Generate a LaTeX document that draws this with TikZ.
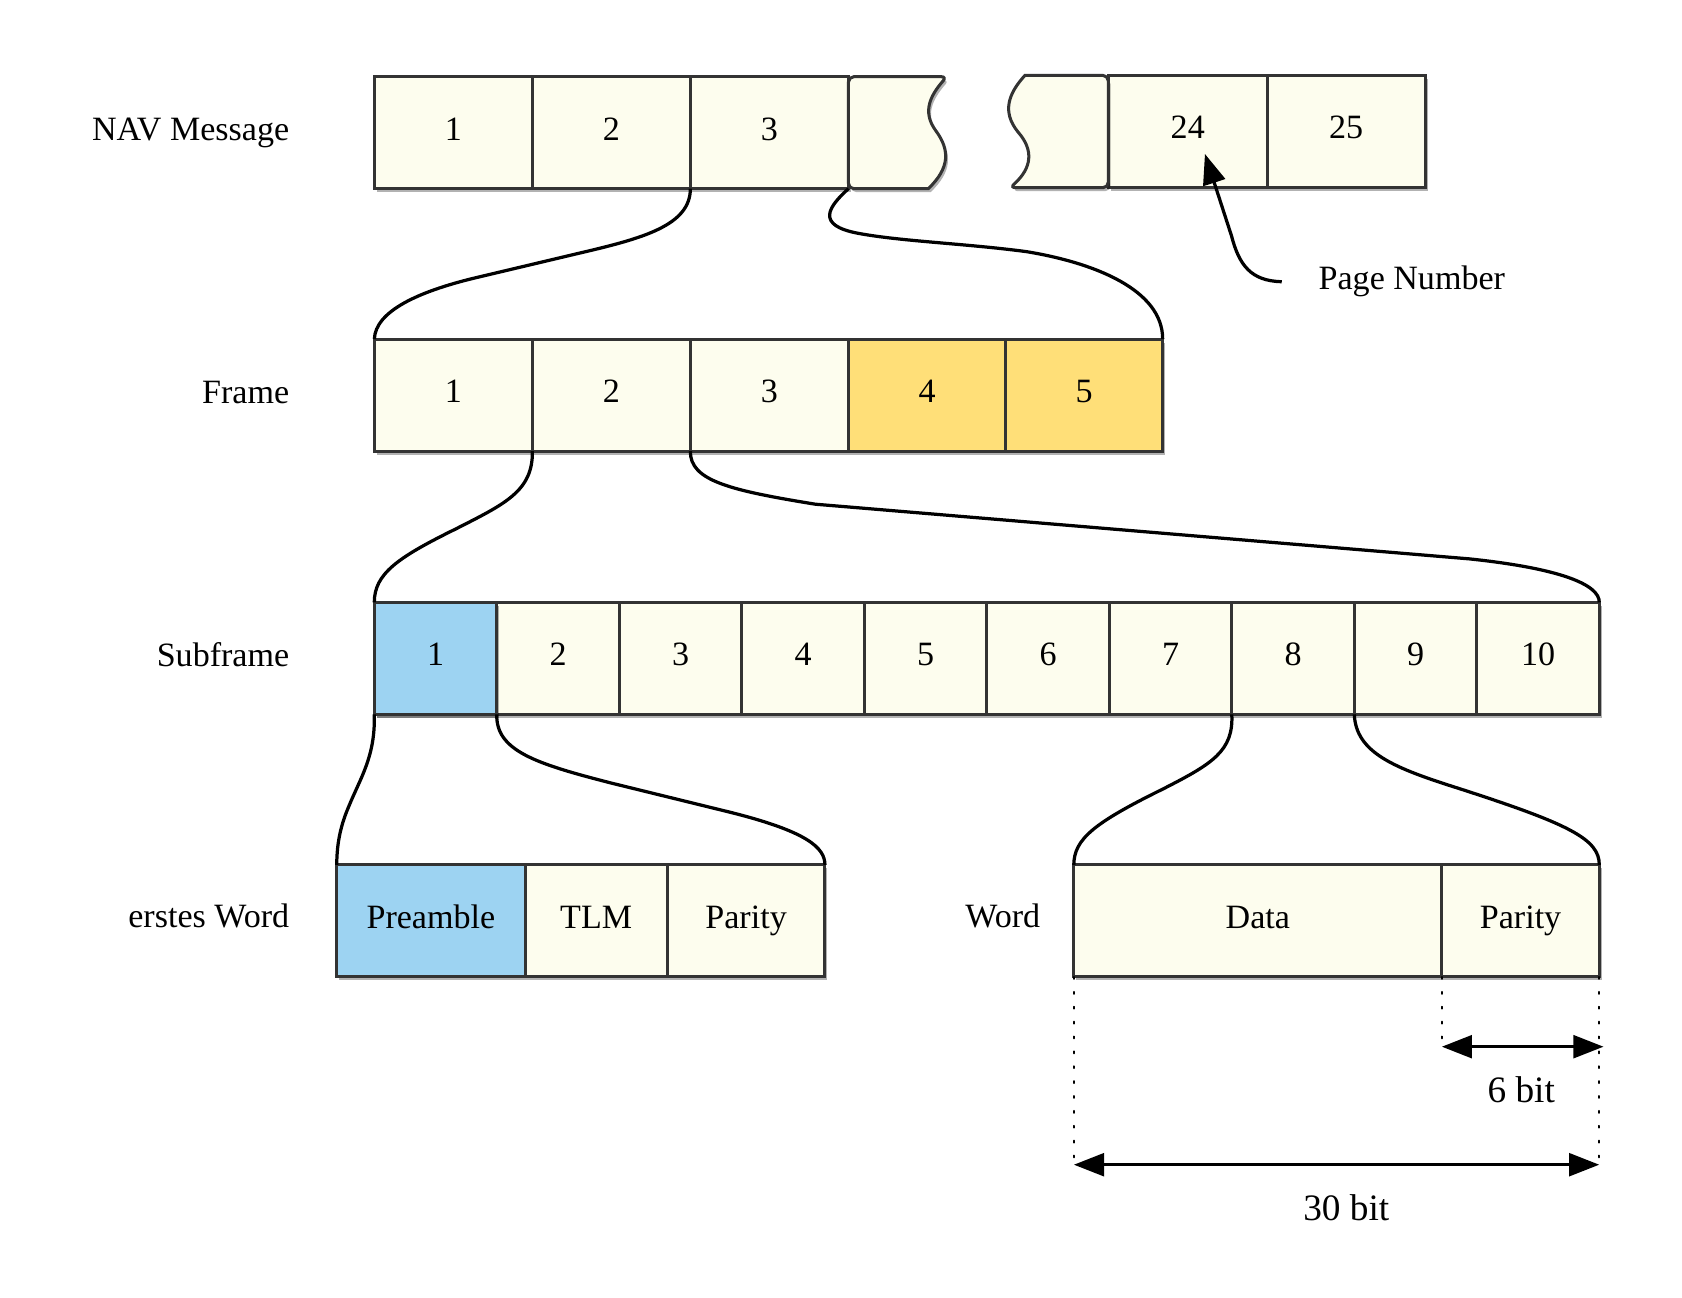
\documentclass[tikz,border=0pt]{standalone}
\usepackage{fontspec}
\setmainfont{Liberation Serif}
\usetikzlibrary{shadows,arrows.meta,calc}
\definecolor{cream}{HTML}{FDFDEE}
\definecolor{gold}{HTML}{FFDF78}
\definecolor{sky}{HTML}{9DD3F2}
\definecolor{edge}{HTML}{333333}
\begin{document}
\begin{tikzpicture}[x=0.49759pt,y=-0.49759pt,
 boxshadow/.style={drop shadow={shadow xshift=1.1pt, shadow yshift=-1.6pt, opacity=0.3, fill=black}},
 cw/.style={minimum width=#1*0.49759pt},
 cell/.style={draw=edge, fill=cream, line width=1.4pt, minimum height=51.95pt, inner sep=0pt, outer sep=0pt,
   text height=10pt, text depth=3pt, font=\fontsize{15.8}{18}\selectfont, boxshadow},
 torn/.style={draw=edge, fill=cream, line width=1.4pt, boxshadow},
 lab/.style={anchor=base east, inner sep=0pt, font=\fontsize{15.8}{18}\selectfont},
 link/.style={line width=1.5pt, black},
 dimline/.style={dash pattern=on 0.9pt off 6pt, line width=0.9pt, line cap=round},
 dimarrow/.style={line width=1.6pt, {Triangle[length=14pt,width=10.5pt]}-{Triangle[length=14pt,width=10.5pt]}},
 dimlab/.style={anchor=base, inner sep=0pt, font=\fontsize{17.3}{20}\selectfont},
]
\useasboundingbox (0,0) rectangle (1567.9,1209.9);

% ---- Row 1: NAV Message
\node[lab] (lnav) at (270,131.2) {NAV Message};
\node[cell, cw=147.3] (m1) at (422.6,123.7) {1};
\node[cell, cw=147.3] (m2) at (569.9,123.7) {2};
\node[cell, cw=147.3] (m3) at (717.2,123.7) {3};
\draw[torn] (882.5,71.5) .. controls (866.9,89.5) and (859.4,104.4) .. (872.5,122.1)
  .. controls (885.5,139.8) and (885.5,156.6) .. (865.3,175.9)
  [rounded corners=2.5pt] -- (790.9,175.9) -- (790.9,71.5) -- cycle;
\coordinate (tl) at (790.9,175.9);
\node[cell, cw=148.2] (m24) at (1107.2,122.5) {24};
\node[cell, cw=147.2] (m25) at (1254.9,122.5) {25};
\draw[torn] (941.5,175) .. controls (962,156.6) and (963.8,139.8) .. (948.9,123)
  .. controls (934,104.4) and (939.6,87.6) .. (955.4,70.3)
  [rounded corners=2.5pt] -- (1033.1,70.3) -- (1033.1,175) -- cycle;

% ---- Row 2: Frame
\node[lab] (lframe) at (270,375.8) {Frame};
\node[cell, cw=147.3] (f1) at (422.6,368.3) {1};
\node[cell, cw=147.3] (f2) at (569.9,368.3) {2};
\node[cell, cw=147.3] (f3) at (717.2,368.3) {3};
\node[cell, cw=146.7, fill=gold] (f4) at (864.2,368.3) {4};
\node[cell, cw=146.2, fill=gold] (f5) at (1010.7,368.3) {5};

% ---- Row 3: Subframe
\node[lab] (lsub) at (270,621.2) {Subframe};
\foreach \i in {1,...,10} {
  \pgfmathsetmacro{\cx}{348.9+57.095+114.19*(\i-1)}
  \node[cell, cw=114.19] (s\i) at (\cx,613.7) {\i};
}
\node[cell, cw=114.19, fill=sky] (s1) at (405.995,613.7) {1};

% ---- Row 4: words
\node[lab] (lfirst) at (270,865) {erstes Word};
\node[cell, cw=175.5, fill=sky] (w1) at (401.65,858.5) {Preamble};
\node[cell, cw=132.6] (w2) at (555.7,858.5) {TLM};
\node[cell, cw=147] (w3) at (695.5,858.5) {Parity};
\node[lab] (lword) at (970,865) {Word};
\node[cell, cw=343] (d1) at (1172.5,858.5) {Data};
\node[cell, cw=146.8] (d2) at (1417.4,858.5) {Parity};

% ---- connectors
\draw[link] (m3.south west) .. controls (643.4,210) and (600,222) .. (540,236)
  -- (441,259.5) .. controls (390,272) and (350,290) .. (f1.north west);
\draw[link] (tl) .. controls (772,193) and (760,210) .. (800,217.5)
  .. controls (840,225) and (900,227) .. (957,234.6)
  .. controls (1020,245) and (1083.8,270) .. (f5.north east);
\draw[link] (f2.south west) .. controls (497,458) and (470,470) .. (425,493)
  .. controls (370,520) and (349,535) .. (s1.north west);
\draw[link] (f3.south west) .. controls (643,448) and (680,457) .. (760,470)
  -- (1370,521) .. controls (1455,530) and (1491,545) .. (s10.north east);
\draw[link] (s1.south west) .. controls (350,705) and (336,725) .. (325,752)
  .. controls (316,773) and (314,790) .. (w1.north west);
\draw[link] (s2.south west) .. controls (462,700) and (500,712) .. (570,730)
  -- (680,757) .. controls (752,775) and (769,790) .. (w3.north east);
\draw[link] (s8.south west) .. controls (1150,700) and (1130,712) .. (1085,735)
  .. controls (1020,767) and (1001,782) .. (d1.north west);
\draw[link] (s9.south west) .. controls (1264,702) and (1300,716) .. (1360,735)
  .. controls (1462,768) and (1491,782) .. (d2.north east);

% ---- page number
\node[anchor=base west, inner sep=0pt, font=\fontsize{15.8}{18}\selectfont] (pn) at (1228.8,270.3) {Page Number};
\draw[link, -{Triangle[length=14pt,width=10.5pt]}] ($(pn.base west)+(-34,-7.7)$)
  .. controls (1166,262) and (1155,247) .. (1148,220) -- ($(m24.south)+(16,-31.2)$);

% ---- dimensions
\coordinate (a6l) at ($(d2.south west)+(0,65)$);
\coordinate (a6r) at ($(d2.south east)+(4,65)$);
\coordinate (a30l) at ($(d1.south west)+(0,175)$);
\coordinate (a30r) at ($(d2.south east)+(0,175)$);
\draw[dimline] (d1.south west) -- ++(0,172);
\draw[dimline] (d2.south west) -- ++(0,60);
\draw[dimline] (d2.south east) -- ++(0,172);
\draw[dimarrow] (a6l) -- (a6r);
\draw[dimarrow] (a30l) -- (a30r);
\node[dimlab] (b6) at (1418,1028) {6 bit};
\node[dimlab] (b30) at (1255,1138) {30 bit};
\end{tikzpicture}
\end{document}
